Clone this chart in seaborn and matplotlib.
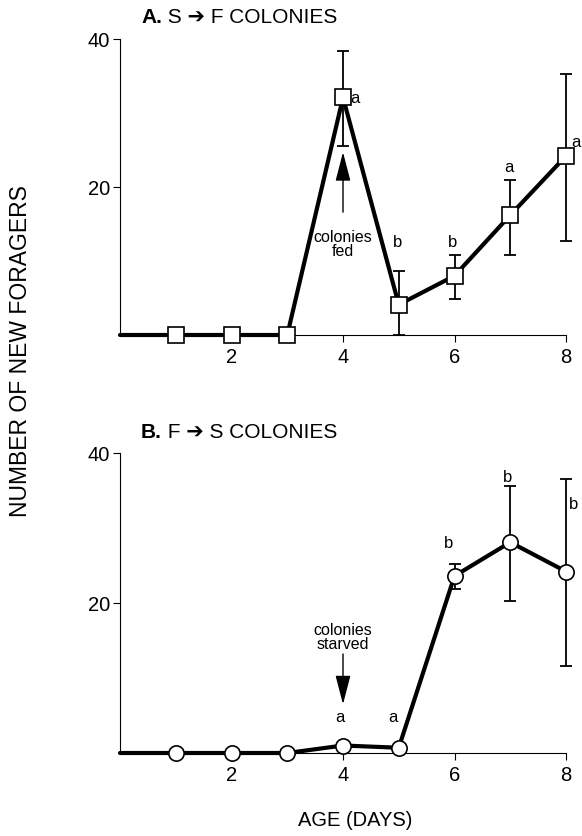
import matplotlib
matplotlib.use("Agg")
from matplotlib import pyplot as plt
import seaborn as sns

sns.set_style("ticks")
plt.rcParams["font.family"] = ["Liberation Sans", "DejaVu Sans"]
for k in ["text.color", "axes.labelcolor", "xtick.color", "ytick.color", "axes.edgecolor"]:
    plt.rcParams[k] = "black"

# age in days (day 0 only carries the line, no marker)
days = [0, 1, 2, 3, 4, 5, 6, 7, 8]

# A. S -> F colonies
a_mean = [0, 0, 0, 0, 32.1, 4.1, 8.0, 16.2, 24.2]
a_err_days = [4, 5, 6, 7, 8]
a_lo = [25.6, 0, 4.9, 10.8, 12.7]
a_hi = [38.4, 8.6, 10.8, 21.0, 35.3]
a_letters = ["a", "b", "b", "a", "a"]
a_letter_pos = [(4.22, 32.1), (4.98, 12.7), (5.96, 12.7), (6.98, 22.8), (8.18, 26.2)]

# B. F -> S colonies
b_mean = [0, 0, 0, 0, 1.0, 0.7, 23.6, 28.1, 24.2]
b_err_days = [6, 7, 8]
b_lo = [21.9, 20.3, 11.6]
b_hi = [25.2, 35.6, 36.5]
b_letters = ["a", "a", "b", "b", "b"]
b_letter_pos = [(3.95, 4.8), (4.9, 4.8), (5.9, 28.1), (6.95, 36.9), (8.14, 33.2)]

fig = plt.figure(figsize=(5.82, 8.37), dpi=100)
ax_a = fig.add_axes([120 / 582, 1 - 336 / 837, 446 / 582, 296 / 837])
ax_b = fig.add_axes([120 / 582, 1 - 754 / 837, 446 / 582, 300 / 837])


def draw_panel(ax, mean, err_days, lo, hi, marker, ms, letters, letter_pos):
    sns.lineplot(x=days, y=mean, ax=ax, color="black", lw=3, clip_on=False, zorder=2)
    err_mean = [mean[days.index(d)] for d in err_days]
    ax.errorbar(err_days, err_mean,
                yerr=[[m - l for m, l in zip(err_mean, lo)], [h - m for m, h in zip(err_mean, hi)]],
                fmt="none", ecolor="black", elinewidth=1.3, capsize=4, capthick=1.3,
                clip_on=False, zorder=3)
    ax.plot(days[1:], mean[1:], ls="none", marker=marker, ms=ms, mfc="white",
            mec="black", mew=1.2, clip_on=False, zorder=4)
    for txt, (x, y) in zip(letters, letter_pos):
        ax.text(x, y, txt, ha="center", va="center", fontsize=12)
    ax.set_xlim(0, 8)
    ax.set_ylim(0, 40)
    ax.set_xticks([2, 4, 6, 8])
    ax.set_yticks([20, 40])
    ax.tick_params(direction="out", length=5, width=0.8, labelsize=14.5)
    ax.tick_params(axis="y", pad=2)
    ax.tick_params(axis="x", pad=4)
    for s in ["left", "bottom"]:
        ax.spines[s].set_linewidth(0.8)
    sns.despine(ax=ax)
    ax.set_xlabel("")
    ax.set_ylabel("")


draw_panel(ax_a, a_mean, a_err_days, a_lo, a_hi, "s", 11, a_letters, a_letter_pos)
draw_panel(ax_b, b_mean, b_err_days, b_lo, b_hi, "o", 11, b_letters, b_letter_pos)

# treatment arrows
arrow = dict(arrowstyle="-|>,head_length=1.0,head_width=0.26", color="black", lw=1,
             mutation_scale=18, shrinkA=0, shrinkB=0)
ax_a.annotate("", xy=(4, 24.7), xytext=(4, 16.6), arrowprops=arrow)
ax_a.text(4, 12.4, "colonies\nfed", ha="center", va="center", fontsize=11.5, linespacing=0.95)
ax_b.annotate("", xy=(4, 6.5), xytext=(4, 13.2), arrowprops=arrow)
ax_b.text(4, 15.5, "colonies\nstarved", ha="center", va="center", fontsize=11.5, linespacing=0.95)

# panel titles
for label, rest, ypix in [("A.", " S \u2794 F COLONIES", 27), ("B.", " F \u2794 S COLONIES", 442)]:
    t = fig.text(141 / 582, 1 - ypix / 837, label, fontsize=15, weight="bold", va="bottom")
    ax_a.annotate(rest, xy=(1, 0), xycoords=t, fontsize=15, va="bottom", ha="left")

fig.text(21 / 582, 1 - 351 / 837, "NUMBER OF NEW FORAGERS", rotation=90,
         ha="center", va="center", fontsize=16.5)
fig.text(355 / 582, 1 - 821 / 837, "AGE (DAYS)", ha="center", va="center", fontsize=14.5)

fig.savefig("out.png", dpi=100)
